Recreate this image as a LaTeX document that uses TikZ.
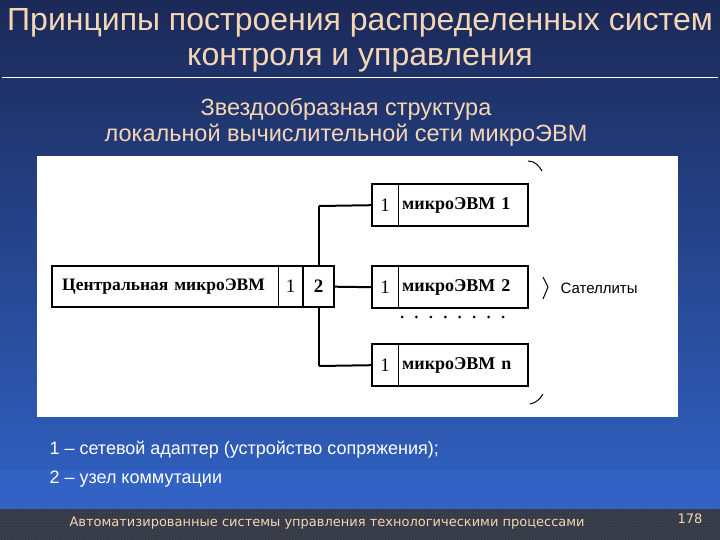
\documentclass[tikz,border=0pt]{standalone}
\usepackage{fontspec}
\setmainfont{Liberation Serif}
\newfontfamily\sansf{Liberation Sans}
\newfontfamily\footf{DejaVu Sans}
\usetikzlibrary{patterns}
\definecolor{navytop}{HTML}{1B2957}
\definecolor{navybot}{HTML}{3162C4}
\definecolor{peach}{HTML}{F5D6B4}
\definecolor{footbg}{HTML}{363A46}
\definecolor{footdot}{HTML}{5A5F6C}
\tikzset{
  cell/.style={inner sep=0pt, anchor=north west, minimum height=42pt, font=\fontsize{19}{20}\selectfont},
  namecell/.style={inner ysep=0pt, anchor=north west, minimum height=42pt, align=left},
  boxline/.style={line width=2pt},
  thinline/.style={line width=0.9pt},
  wire/.style={line width=2pt}
}
\begin{document}
\begin{tikzpicture}[x=1pt,y=-1pt]
\useasboundingbox (0,0) rectangle (720,540);
% background
\shade[top color=navytop, bottom color=navybot] (0,0) rectangle (720,510);
\fill[navybot] (0,470) rectangle (720,510);
\fill[footbg] (0,509) rectangle (720,540);
\fill[pattern=dots, pattern color=footdot] (0,509) rectangle (720,540);
% title
\node[text=peach, font=\sansf\fontsize{32}{34}\selectfont] (t1) at (360,23) {Принципы построения распределенных систем};
\node[text=peach, font=\sansf\fontsize{32}{34}\selectfont] (t2) at (360,60) {контроля и управления};
\draw[white, line width=0.8pt] (2,77) -- (718,77);
\node[text=peach, font=\sansf\fontsize{23.5}{25}\selectfont] (s1) at (346,109) {Звездообразная структура};
\node[text=peach, font=\sansf\fontsize{23.5}{25}\selectfont] (s2) at (346,135) {локальной вычислительной сети микроЭВМ};
% white panel
\fill[white] (37,156) rectangle (678,417);
% hub wires
\coordinate (top) at (319,206);
\coordinate (bot) at (319,366);
\draw[wire] (top) -- (bot);
% central
\node[namecell, inner xsep=10pt, text width=206pt, fill=white, minimum height=41pt, font=\bfseries\fontsize{17.5}{20}\selectfont] (cn) at (52,266) {Центральная микроЭВМ};
\node[cell, minimum width=25pt, fill=white, minimum height=41pt] (c1) at (278,266) {1};
\node[cell, minimum width=31pt, fill=white, minimum height=41pt, font=\bfseries\fontsize{19}{20}\selectfont] (c2) at (303,266) {2};
\draw[boxline] (cn.north west) rectangle (c2.south east);
\draw[thinline] (c1.north west) -- (c1.south west);
\draw[boxline] (c2.north west) -- (c2.south west);
% satellites
\foreach \nm/\yy/\lab in {a/184/{микроЭВМ 1}, b/266/{микроЭВМ 2}, n/344/{микроЭВМ n}}{
  \node[cell, minimum width=26pt] (s\nm1) at (372,\yy) {1};
  \node[namecell, inner xsep=4pt, text width=122pt, font=\bfseries\fontsize{18}{20}\selectfont] (s\nm2) at (398,\yy) {\lab};
  \draw[boxline] (s\nm1.north west) rectangle (s\nm2.south east);
  \draw[thinline] (s\nm2.north west) -- (s\nm2.south west);
}
\draw[wire] (top) -- (sa1.west);
\draw[wire] (bot) -- (sn1.west);
\draw[wire] (c2.east) -- (sb1.west);
% dots
\foreach \i in {0,...,7}{
  \fill (402+\i*14.43,317) circle (1.5pt);
}
% brace fragments
\draw[line width=1pt] (528,161) .. controls (535,161) and (539,166) .. (542,171);
\draw[line width=1pt] (543,277) -- (548,287) -- (543,299);
\draw[line width=1pt] (530,404) .. controls (536,403) and (540,399) .. (543,394);
\node[anchor=west, font=\sansf\fontsize{15}{17}\selectfont] (sat) at (557,288) {Сателлиты};
% legend
\node[anchor=west, text=white, font=\sansf\fontsize{18}{20}\selectfont] (l1) at (46,450) {1 – сетевой адаптер (устройство сопряжения);};
\node[anchor=west, text=white, font=\sansf\fontsize{18}{20}\selectfont] (l2) at (46,479) {2 – узел коммутации};
% footer
\node[anchor=west, text=peach, font=\footf\fontsize{13}{15}\selectfont] (f1) at (66,523) {Автоматизированные системы управления технологическими процессами};
\node[text=peach, font=\footf\fontsize{13}{15}\selectfont] (pg) at (690,519) {178};
\end{tikzpicture}
\end{document}
